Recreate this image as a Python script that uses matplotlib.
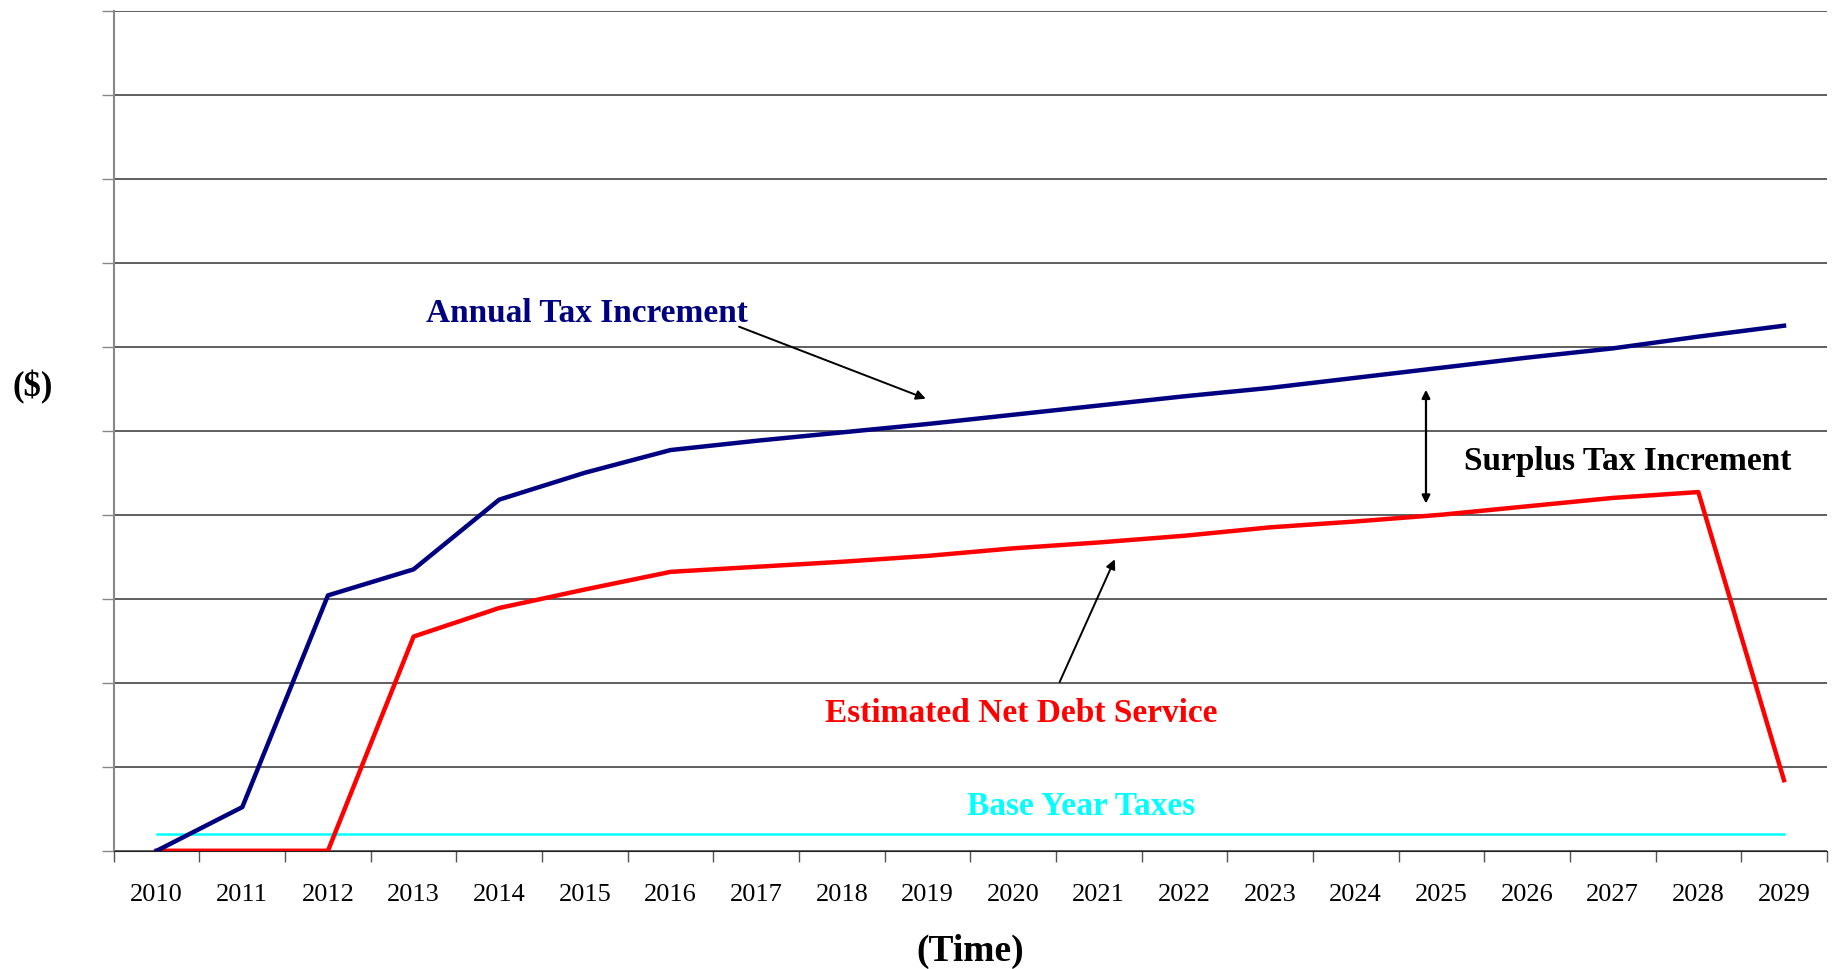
import numpy as np
import matplotlib
matplotlib.use("Agg")
import matplotlib.pyplot as plt
from matplotlib.ticker import FixedLocator

years = [str(y) for y in range(2010, 2030)]

# values (gridline units)
tax_increment = [0.0, 0.52, 3.04, 3.35, 4.18, 4.50, 4.77, 4.88, 4.98, 5.08,
                 5.19, 5.30, 5.41, 5.51, 5.63, 5.75, 5.87, 5.98, 6.12, 6.25]
debt_service = [0.0, 0.0, 0.0, 2.55, 2.89, 3.11, 3.32, 3.38, 3.44, 3.51,
                3.60, 3.67, 3.75, 3.85, 3.92, 4.00, 4.10, 4.20, 4.27, 0.84]
base_taxes = [0.2] * 20

plt.rcParams['font.family'] = ['Liberation Serif', 'DejaVu Serif']

fig = plt.figure(figsize=(18.36, 9.69), dpi=100)
ax = fig.add_axes([0.062, 0.122, 0.933, 0.867])

x = np.arange(len(years))
ax.plot(x, base_taxes, color='#00FFFF', lw=1.8, zorder=3)
ax.plot(x, debt_service, color='#FF0000', lw=3.2, zorder=4)
ax.plot(x, tax_increment, color='#000080', lw=3.2, zorder=5)

ax.set_xlim(-0.5, 19.5)
ax.set_ylim(0, 10)

ax.set_yticks(np.arange(0, 11, 1))
ax.set_yticklabels([])
ax.yaxis.grid(True, color='#333333', lw=1.1)
ax.tick_params(axis='y', length=9, width=1, color='#888888')

ax.set_xticks(x)
ax.set_xticklabels(years, fontsize=19)
ax.xaxis.set_minor_locator(FixedLocator(np.arange(-0.5, 20, 1)))
ax.tick_params(axis='x', which='major', length=0, pad=24)
ax.tick_params(axis='x', which='minor', length=8, width=1, color='#555555')

for s in ['top', 'right']:
    ax.spines[s].set_visible(False)
ax.spines['left'].set_color('#888888')
ax.spines['left'].set_linewidth(1.5)
ax.spines['bottom'].set_color('#222222')
ax.set_axisbelow(True)

ax.set_xlabel('(Time)', fontsize=27, fontweight='bold', labelpad=20)
fig.text(0.018, 0.60, '($)', fontsize=25, fontweight='bold',
         ha='center', va='center')

arr = dict(arrowstyle='-|>', color='black', lw=1.4, mutation_scale=14)
ax.text(5.02, 6.39, 'Annual Tax Increment', color='#000080', fontsize=24,
        fontweight='bold', ha='center', va='center')
ax.annotate('', xy=(9.01, 5.37), xytext=(6.77, 6.25), arrowprops=arr)

ax.text(17.18, 4.63, 'Surplus Tax Increment', color='black', fontsize=24,
        fontweight='bold', ha='center', va='center')
ax.annotate('', xy=(14.82, 5.52), xytext=(14.82, 4.10),
            arrowprops=dict(arrowstyle='<|-|>', color='black', lw=1.6,
                            mutation_scale=12))

ax.text(10.10, 1.63, 'Estimated Net Debt Service', color='#FF0000', fontsize=24,
        fontweight='bold', ha='center', va='center')
ax.annotate('', xy=(11.20, 3.50), xytext=(10.53, 1.98), arrowprops=arr)

ax.text(10.79, 0.53, 'Base Year Taxes', color='#00FFFF', fontsize=24,
        fontweight='bold', ha='center', va='center')

fig.savefig('out.png', dpi=100)
